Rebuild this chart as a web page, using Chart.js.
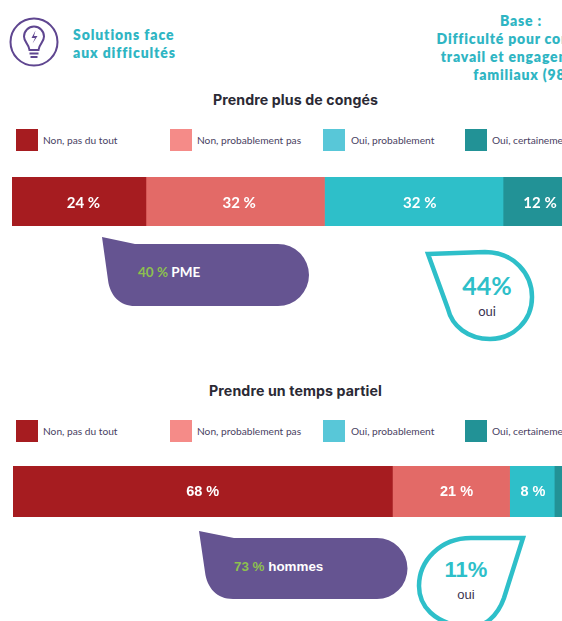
<!DOCTYPE html>
<html lang="fr">
<head>
<meta charset="utf-8">
<script src="https://cdn.jsdelivr.net/npm/chart.js@4"></script>
<style>
html,body{margin:0;padding:0;background:#fff;width:562px;height:621px;overflow:hidden}
#page{position:relative;width:562px;height:621px;overflow:hidden;font-family:Lato,sans-serif}
.abs{position:absolute;white-space:nowrap}
.wrap{position:absolute;width:558px}
.head{font:800 14px/18px Lato,sans-serif;color:#2fb5c3;letter-spacing:.9px}
.base{left:421px;width:200px;text-align:center;letter-spacing:.8px}
.title{left:145px;width:301px;text-align:center;font:700 14.2px/16px Inter,sans-serif;color:#2b2a35;letter-spacing:.1px}
.swatch{position:absolute;width:22px;height:22px}
.lg{position:absolute;font:400 10.2px/12px Lato,sans-serif;color:#4a3f63;white-space:nowrap}
svg{position:absolute;left:0;top:0}
</style>
</head>
<body>
<div id="page">
<svg width="562" height="621" viewBox="0 0 562 621">
  <g fill="none" stroke="#5f4690" stroke-width="2">
    <circle cx="34" cy="42" r="23.5"/>
    <path d="M29.5 50 C29 44 24 42.5 24 36.5 A10 10 0 0 1 44 36.5 C44 42.500 39 44 38.5 50 Z"/>
    <path d="M29.500 53.5H38.5M30.5 57H37.5"/>
  </g>
  <path d="M35.5 30.5L31.5 38H35L32.5 43.5L37.5 36H34Z" fill="#5f4690"/>
  <path d="M102 237L135 244H278A31 31 0 0 1 278 306H135C120 306 110 296 108 280Z" fill="#655491"/>
  <path d="M199 531L234 538H377A30.500 30.500 0 0 1 377 599H233C217 599 207 588 205 572Z" fill="#655491"/>
  <path d="M428 254L485 252C514 252 532 274 532 297C532 321 513 339 490 339C468 339 452 326 448 309Z" fill="none" stroke="#2ebfc9" stroke-width="4.500"/>
  <path d="M523 538L471 538C440 538 419 561 419 586C419 606 434 623 465 627C485 629 498 615 504 598Z" fill="none" stroke="#2ebfc9" stroke-width="4.500"/>
</svg>

<div class="abs head" style="left:73px;top:26px">Solutions face</div>
<div class="abs head" style="left:73px;top:44px">aux difficultés</div>
<div class="abs head base" style="top:12px">Base :</div>
<div class="abs head base" style="top:30px">Difficulté pour concilier</div>
<div class="abs head base" style="top:48px">travail et engagements</div>
<div class="abs head base" style="left:430px;top:66px">familiaux (98 %)</div>

<div class="abs title" style="top:92px">Prendre plus de congés</div>
<div class="abs title" style="top:383px">Prendre un temps partiel</div>

<div id="legends"></div>

<div class="wrap" style="left:12px;top:177px;height:49px"><canvas id="c0" width="558" height="49"></canvas></div>
<div class="wrap" style="left:13px;top:466px;height:51px"><canvas id="c1" width="558" height="51"></canvas></div>

<div class="abs" style="left:138px;top:264px;font:700 13.5px/16px Lato,sans-serif;color:#fff"><span style="color:#8dc04f">40 %</span> PME</div>
<div class="abs" style="left:234px;top:559px;font:700 13.4px/16px 'Liberation Sans',sans-serif;color:#fff"><span style="color:#8dc04f">73 %</span> hommes</div>
<div class="abs" style="left:447px;width:80px;top:270px;text-align:center;font:700 25px/30px Lato,sans-serif;color:#2ebfc9">44%</div>
<div class="abs" style="left:447px;width:80px;top:303px;text-align:center;font:400 13px/16px Lato,sans-serif;color:#3a3350">oui</div>
<div class="abs" style="left:426px;width:80px;top:556px;text-align:center;font:700 22px/28px 'Liberation Sans',sans-serif;color:#2ebfc9">11%</div>
<div class="abs" style="left:426px;width:80px;top:587px;text-align:center;font:400 13px/16px 'Liberation Sans',sans-serif;color:#3a3350">oui</div>
</div>

<script>
// Data
const questions = ['Prendre plus de congés', 'Prendre un temps partiel'];
const seriesNames = ['Non, pas du tout', 'Non, probablement pas', 'Oui, probablement', 'Oui, certainement'];
const nonPasDuTout = [24, 68];
const nonProbablementPas = [32, 21];
const ouiProbablement = [32, 8];
const ouiCertainement = [12, 3];
const seriesValues = [nonPasDuTout, nonProbablementPas, ouiProbablement, ouiCertainement];

// Styles
const barColors = ['#a61c20', '#e36a67', '#2ebfc9', '#229296'];
const legendColors = ['#a61c20', '#f58b88', '#58c7d8', '#229296'];
const labelFonts = ['700 15px Lato, sans-serif', '700 14.5px "Liberation Sans", sans-serif'];
const labelShifts = [[4.5, 4, 6, 3.5], [0, 5.5, 1, 0]];
const labelDrops = [1.5, 0];
const legendTops = [129, 420];
const swatchLefts = [16, 170, 323, 465];
const textLefts = [43, 197, 351, 492];

const legends = document.getElementById('legends');
legendTops.forEach(top => {
  seriesNames.forEach((name, i) => {
    const s = document.createElement('div');
    s.className = 'swatch';
    s.style.cssText = `left:${swatchLefts[i]}px;top:${top}px;background:${legendColors[i]}`;
    legends.appendChild(s);
    const t = document.createElement('div');
    t.className = 'lg';
    t.style.cssText = `left:${textLefts[i]}px;top:${top + 5}px`;
    t.textContent = name;
    legends.appendChild(t);
  });
});

const valueLabels = {
  id: 'valueLabels',
  afterDatasetsDraw(chart, args, opts) {
    const ctx = chart.ctx;
    ctx.save();
    ctx.font = opts.font;
    ctx.fillStyle = '#fff';
    ctx.textAlign = 'center';
    ctx.textBaseline = 'middle';
    chart.data.datasets.forEach((ds, i) => {
      const v = ds.data[0];
      if (v < 5) return;
      const el = chart.getDatasetMeta(i).data[0];
      ctx.fillText(v + ' %', (el.x + el.base) / 2 + opts.shifts[i], el.y + opts.drop);
    });
    ctx.restore();
  }
};

questions.forEach((q, k) => {
  new Chart(document.getElementById('c' + k), {
    type: 'bar',
    data: {
      labels: [q],
      datasets: seriesNames.map((name, i) => ({
        label: name,
        data: [seriesValues[i][k]],
        backgroundColor: barColors[i],
        borderWidth: 0,
        barPercentage: 1,
        categoryPercentage: 1
      }))
    },
    options: {
      indexAxis: 'y',
      responsive: false,
      animation: false,
      layout: { padding: 0 },
      scales: {
        x: { stacked: true, min: 0, max: 100, display: false },
        y: { stacked: true, display: false }
      },
      plugins: {
        legend: { display: false },
        tooltip: { enabled: false },
        title: { display: false },
        valueLabels: { font: labelFonts[k], shifts: labelShifts[k], drop: labelDrops[k] }
      }
    },
    plugins: [valueLabels]
  });
});
</script>
</body>
</html>
